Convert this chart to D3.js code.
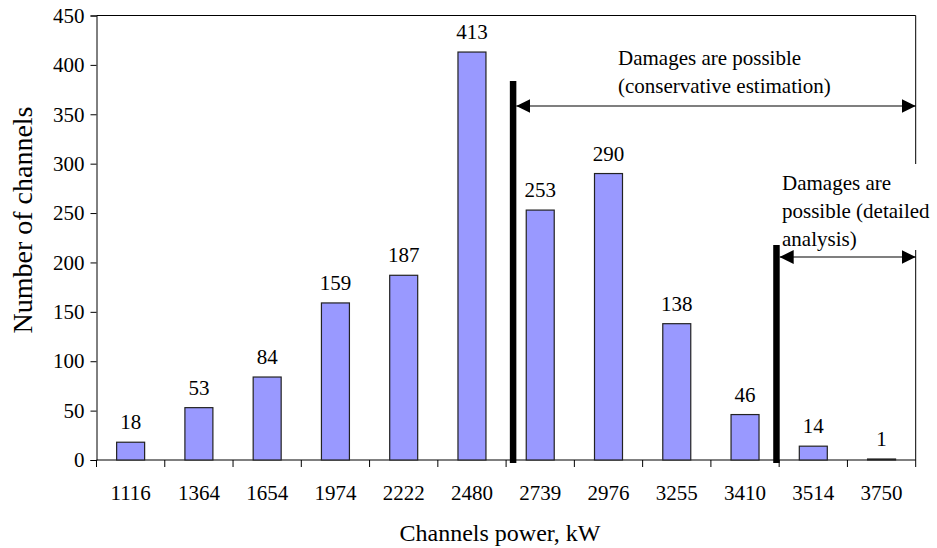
<!DOCTYPE html>
<html>
<head>
<meta charset="utf-8">
<script src="https://cdn.jsdelivr.net/npm/d3@7"></script>
<style>
  body { margin: 0; background: #fff; }
</style>
</head>
<body>
<div id="chart-area"></div>
<script>
var categories = ['1116', '1364', '1654', '1974', '2222', '2480', '2739', '2976', '3255', '3410', '3514', '3750'];
var values = [18, 53, 84, 159, 187, 413, 253, 290, 138, 46, 14, 1];
var yTicks = [0, 50, 100, 150, 200, 250, 300, 350, 400, 450];
// damage limits: placed after these categories
var limitAfter = ['2480', '3410'];
var limitText = [
    ['Damages are possible', '(conservative estimation)'],
    ['Damages are', 'possible (detailed', 'analysis)']
];

var font = 'Liberation Serif';
var width = 937, height = 548;
var plotLeft = 96.5, plotRight = 915.7, plotTop = 15.5, plotBottom = 460;

var svg = d3.select("#chart-area").append("svg")
    .attr("width", width)
    .attr("height", height)
    .attr('font-family', font)

var x = d3.scaleBand()
    .domain(categories)
    .range([plotLeft, plotRight])
    .paddingInner(0.59)
    .paddingOuter(0.295)

var y = d3.scaleLinear()
    .domain([0, 450])
    .range([plotBottom, plotTop])

var step = x.step();
function boundary(cat) {
    return x(cat) + x.bandwidth() / 2 + step / 2;
}

// frame (top and right)
svg.append('path')
    .attr('d', 'M' + plotLeft + ',' + plotTop + 'H' + plotRight + 'V' + plotBottom)
    .attr('fill', 'none')
    .attr('stroke', '#000')
    .attr('stroke-width', 1)

// y axis
var yAxis = svg.append('g')
    .attr('transform', 'translate(' + plotLeft + ',0)')
    .call(d3.axisLeft(y).tickValues(yTicks).tickSize(6).tickPadding(6))
    .attr('font-family', font)
    .attr('font-size', 21)
yAxis.select('.domain').attr('stroke', '#000')
yAxis.selectAll('text').attr('fill', '#000')

// x axis with ticks at band boundaries
svg.append('line')
    .attr('x1', plotLeft).attr('x2', plotRight)
    .attr('y1', plotBottom).attr('y2', plotBottom)
    .attr('stroke', '#000')
var bounds = [plotLeft].concat(categories.map(boundary))
svg.selectAll('.xtick')
    .data(bounds)
    .enter()
    .append('line')
    .attr('x1', (d) => d).attr('x2', (d) => d)
    .attr('y1', plotBottom).attr('y2', plotBottom + 7)
    .attr('stroke', '#000')
svg.selectAll('.xlabel')
    .data(categories)
    .enter()
    .append('text')
    .attr('x', (d) => x(d) + x.bandwidth() / 2)
    .attr('y', 500)
    .attr('text-anchor', 'middle')
    .attr('font-size', 21)
    .text((d) => d)

var data = categories.map((c, i) => ({cat: c, value: values[i]}))

svg.selectAll('.bar')
    .data(data)
    .enter()
    .append('rect')
    .attr('x', (d) => x(d.cat))
    .attr('y', (d) => y(d.value))
    .attr('width', x.bandwidth())
    .attr('height', (d) => plotBottom - y(d.value))
    .attr('fill', '#9999ff')
    .attr('stroke', '#222')
    .attr('stroke-width', 1.2)

svg.selectAll('.val')
    .data(data)
    .enter()
    .append('text')
    .attr('x', (d) => x(d.cat) + x.bandwidth() / 2)
    .attr('y', (d) => y(d.value) - 13)
    .attr('text-anchor', 'middle')
    .attr('font-size', 21)
    .text((d) => d.value)

// axis titles
svg.append('text')
    .attr('x', 500)
    .attr('y', 541)
    .attr('text-anchor', 'middle')
    .attr('font-size', 24)
    .text('Channels power, kW')
svg.append('text')
    .attr('transform', 'translate(32,220) rotate(-90)')
    .attr('text-anchor', 'middle')
    .attr('font-size', 28)
    .text('Number of channels')

// arrow markers
var defs = svg.append('defs')
defs.append('marker')
    .attr('id', 'head')
    .attr('viewBox', '0 0 14 14')
    .attr('refX', 14).attr('refY', 7)
    .attr('markerWidth', 14).attr('markerHeight', 14)
    .attr('markerUnits', 'userSpaceOnUse')
    .attr('orient', 'auto-start-reverse')
    .append('path')
    .attr('d', 'M0,0L14,7L0,14Z')
    .attr('fill', '#000')

// white box behind second annotation (hides part of frame)
svg.append('rect')
    .attr('x', 781).attr('y', 164)
    .attr('width', 156).attr('height', 86)
    .attr('fill', '#fff')

var limits = [
    {cat: limitAfter[0], dx: 7, lineTop: 81, arrowY: 106, textX: 618, textY: 65},
    {cat: limitAfter[1], dx: -2.7, lineTop: 245, arrowY: 257, textX: 782, textY: 190}
]

limits.forEach((l, i) => {
    var lx = boundary(l.cat) + l.dx;
    svg.append('line')
        .attr('x1', lx).attr('x2', lx)
        .attr('y1', l.lineTop).attr('y2', plotBottom + 3)
        .attr('stroke', '#000')
        .attr('stroke-width', 6.5)
    svg.append('line')
        .attr('x1', lx + 3.2).attr('x2', plotRight)
        .attr('y1', l.arrowY).attr('y2', l.arrowY)
        .attr('stroke', '#000')
        .attr('stroke-width', 1.2)
        .attr('marker-start', 'url(#head)')
        .attr('marker-end', 'url(#head)')
    svg.selectAll('.lt' + i)
        .data(limitText[i])
        .enter()
        .append('text')
        .attr('x', l.textX)
        .attr('y', (d, j) => l.textY + j * 28)
        .attr('font-size', 21)
        .text((d) => d)
})
</script>
</body>
</html>
